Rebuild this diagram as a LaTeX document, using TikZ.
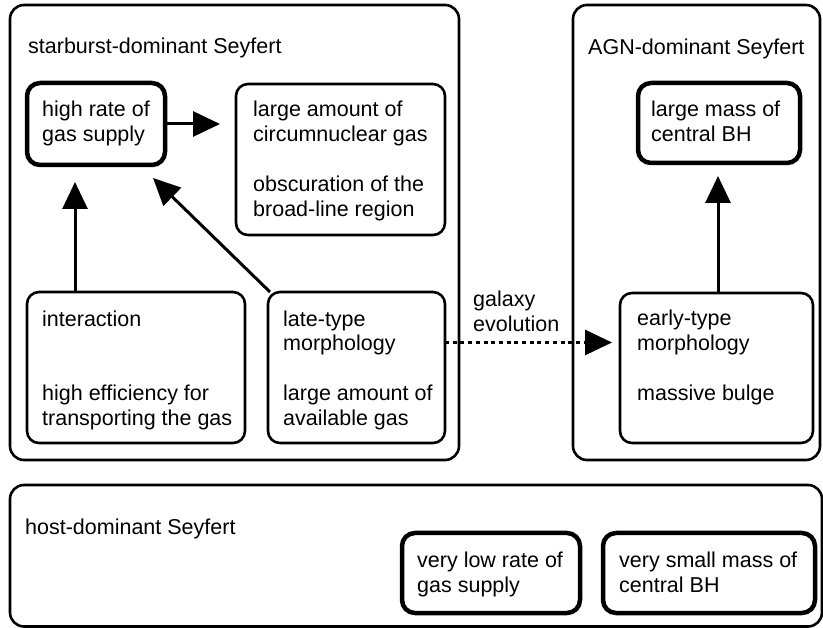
\documentclass[tikz,border=0pt]{standalone}
\usepackage{fontspec}
\setmainfont{Liberation Sans}
\usetikzlibrary{arrows.meta,calc}
\begin{document}
\begin{tikzpicture}[x=1pt,y=-1pt,
  box/.style={draw, inner sep=0pt, outer sep=0pt, anchor=north west},
  outerbox/.style={box, line width=2.6pt, rounded corners=14pt},
  thinbox/.style={box, line width=2.6pt, rounded corners=12pt},
  thickbox/.style={box, line width=4.5pt, rounded corners=13pt},
  txt/.style={align=left, anchor=base west, inner sep=0pt, font=\fontsize{21.5}{25}\selectfont},
  arr/.style={line width=3pt, -{Triangle[length=27pt,width=25pt]}},
  dasharr/.style={arr, dash pattern=on 4pt off 3.7pt},
]
\useasboundingbox (0,0) rectangle (823,628);
% outer group boxes
\node[outerbox, minimum width=449pt, minimum height=455pt] (sb) at (10,5) {};
\node[outerbox, minimum width=247pt, minimum height=455pt] (agn) at (573,5) {};
\node[outerbox, minimum width=812pt, minimum height=141.5pt] (host) at (10,485) {};
% inner boxes
\node[thickbox, minimum width=138pt, minimum height=82pt] (highrate) at (27,83) {};
\node[thinbox, minimum width=209pt, minimum height=151pt] (largeamount) at (236,84) {};
\node[thinbox, minimum width=218pt, minimum height=151pt] (interaction) at (27,292) {};
\node[thinbox, minimum width=177pt, minimum height=151pt] (late) at (268,292) {};
\node[thickbox, minimum width=162pt, minimum height=80pt] (largemass) at (638,83) {};
\node[thinbox, minimum width=193pt, minimum height=150pt] (early) at (620,293) {};
\node[thickbox, minimum width=178pt, minimum height=80pt] (verylow) at (402,533) {};
\node[thickbox, minimum width=212pt, minimum height=80pt] (verysmall) at (603,533) {};
% texts (anchored at the baseline of their last line)
\node[txt] (tsb) at (28,54) {starburst-dominant Seyfert};
\node[txt] (tagn) at (588,55) {AGN-dominant Seyfert};
\node[txt] (thost) at (25,535) {host-dominant Seyfert};
\node[txt] (thighrate) at (42,142) {high rate of\\gas supply};
\node[txt] (tlargeamount) at (253,217) {large amount of\\circumnuclear gas\\[25pt]obscuration of the\\broad-line region};
\node[txt] (tinteraction) at (42,426) {interaction\\[50pt]high efficiency for\\transporting the gas};
\node[txt] (tlate) at (283,426) {late-type\\morphology\\[25pt]large amount of\\available gas};
\node[txt] (tlargemass) at (651,142) {large mass of\\central BH};
\node[txt] (tearly) at (637,401) {early-type\\morphology\\[25pt]massive bulge};
\node[txt] (tverylow) at (417,592) {very low rate of\\gas supply};
\node[txt] (tverysmall) at (619,592) {very small mass of\\central BH};
\node[txt] (tgal) at (473,332) {galaxy\\evolution};
% connectors
\draw[arr, shorten >=16pt] (highrate.east) -- (highrate.east -| largeamount.west);
\draw[arr, shorten >=17pt] ([xshift=48pt]interaction.north west) -- ([xshift=48pt]highrate.south west);
\draw[arr] ([xshift=2pt]late.north west) -- ([xshift=-12pt,yshift=-13pt]highrate.south east);
\draw[arr, shorten >=13pt] ([xshift=1.5pt]early.north) -- ([xshift=1.5pt]early.north |- largemass.south);
\draw[dasharr, shorten >=8pt] ([yshift=25pt]late.east) -- ([yshift=25pt]late.east -| early.west);
\end{tikzpicture}
\end{document}
